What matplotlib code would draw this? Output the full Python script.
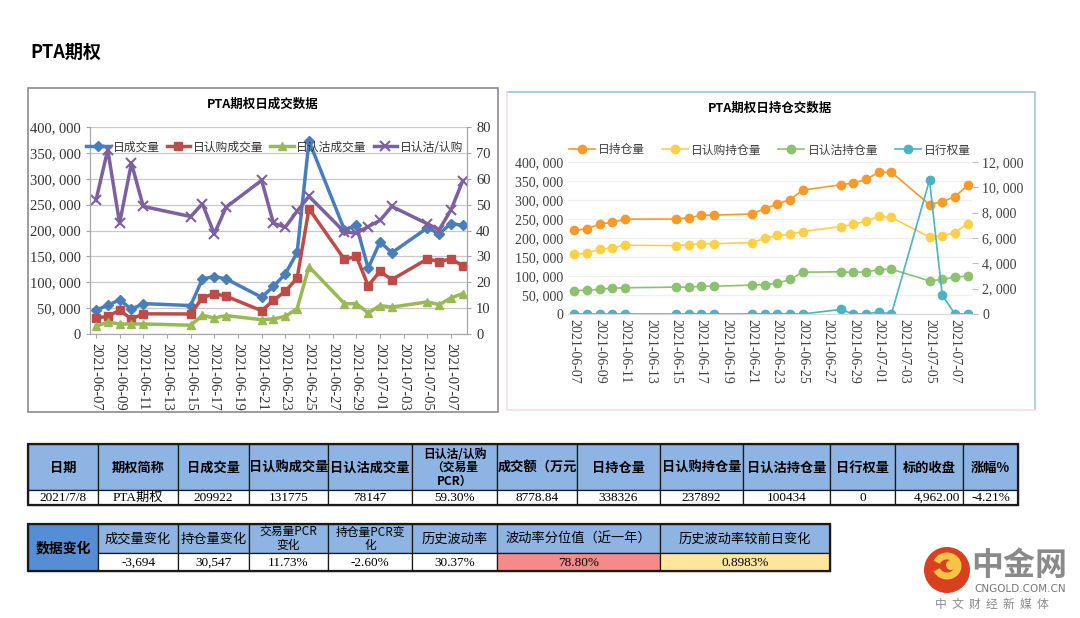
import numpy as np
import pandas as pd
import matplotlib
matplotlib.use('Agg')
import matplotlib.pyplot as plt
import matplotlib.dates as mdates
from matplotlib.ticker import FuncFormatter, FixedLocator
from matplotlib.patches import Rectangle, Circle, Arc

plt.rcParams['font.family'] = ['Noto Sans CJK SC', 'DejaVu Sans']
SERIF = ['Liberation Serif', 'Noto Sans CJK SC']

# trading days
dates = ['2021-06-07', '2021-06-08', '2021-06-09', '2021-06-10', '2021-06-11',
         '2021-06-15', '2021-06-16', '2021-06-17', '2021-06-18', '2021-06-21',
         '2021-06-22', '2021-06-23', '2021-06-24', '2021-06-25', '2021-06-28',
         '2021-06-29', '2021-06-30', '2021-07-01', '2021-07-02', '2021-07-05',
         '2021-07-06', '2021-07-07', '2021-07-08']

# daily volume
vol_total = [46000, 55500, 66000, 48000, 58700, 55000, 106500, 111000, 106500, 71000,
             92000, 116000, 157500, 373000, 201000, 210000, 127000, 178000, 157000,
             205000, 194000, 213500, 209922]
vol_call = [31000, 34000, 46000, 29000, 39000, 38700, 70000, 78000, 73000, 45000,
            65000, 82600, 108000, 242000, 144000, 150000, 93500, 121000, 105000,
            145000, 140000, 145000, 131775]
vol_put = [15000, 23000, 19400, 19400, 19400, 17000, 36000, 31000, 35500, 27700,
           29000, 34000, 49000, 130000, 58700, 58700, 40600, 55000, 52000,
           62000, 56800, 69700, 78147]
pcr = [51.6, 71.2, 42.8, 66.0, 49.3, 45.4, 50.3, 38.7, 49.0, 59.4, 42.8, 41.3,
       47.5, 53.2, 39.4, 39.0, 41.5, 43.9, 49.3, 42.6, 40.3, 48.0, 59.3]

# daily open interest
oi_total = [220000, 224000, 237000, 241000, 249500, 250000, 253000, 260000, 260000,
            263400, 277000, 289500, 301000, 326000, 340000, 345000, 354000, 373000,
            373000, 288000, 296000, 308600, 338326]
oi_call = [157000, 160000, 170000, 174000, 181000, 180000, 182000, 185000, 185000,
           188000, 199000, 207000, 209500, 217000, 230000, 236000, 244000, 257000,
           254000, 202500, 206000, 214000, 237892]
oi_put = [61000, 63000, 65000, 68000, 69000, 70700, 70700, 73000, 73000, 76000,
          77600, 81000, 91000, 110000, 111000, 109600, 111000, 116500, 118000,
          87000, 91000, 96500, 100434]
exercise = [0, 0, 0, 0, 0, 0, 0, 0, 0, 0, 0, 0, 0, 0, 360, 0, 0, 160, 0, 10570, 1500, 0, 0]

# tables
t1_headers = ['日期', '期权简称', '日成交量', '日认购成交量', '日认沽成交量',
              '日认沽/认购\n（交易量\nPCR）', '成交额（万元', '日持仓量', '日认购持仓量',
              '日认沽持仓量', '日行权量', '标的收盘', '涨幅%']
t1_values = ['2021/7/8', 'PTA期权', '209922', '131775', '78147', '59.30%', '8778.84',
             '338326', '237892', '100434', '0', '4,962.00', '-4.21%']
t2_label = '数据变化'
t2_headers = ['成交量变化', '持仓量变化', '交易量PCR\n变化', '持仓量PCR变\n化', '历史波动率',
              '波动率分位值（近一年）', '历史波动率较前日变化']
t2_values = ['-3,694', '30,547', '11.73%', '-2.60%', '30.37%', '78.80%', '0.8983%']

W, H = 1080, 618
fig = plt.figure(figsize=(W / 100, H / 100), dpi=100)
fig.patch.set_facecolor('white')


def box(x0, y0, x1, y1):
    return [x0 / W, 1 - y1 / H, (x1 - x0) / W, (y1 - y0) / H]


# overlay for frames, titles, tables
ov = fig.add_axes([0, 0, 1, 1], zorder=0)
ov.set_xlim(0, W)
ov.set_ylim(H, 0)
ov.axis('off')

ov.text(30, 52, 'PTA期权', fontsize=13, fontweight='bold', va='center', ha='left')

# chart frames
ov.add_patch(Rectangle((28, 88), 470, 324, fill=False, ec='#8c8c8c', lw=1.2))
ov.plot([507, 1035, 1035], [92, 92, 410], color='#9dc3e6', lw=1.2)
ov.plot([507, 507, 1035], [92, 410, 410], color='#f2dcf0', lw=1.2)

ov.text(263, 104, 'PTA期权日成交数据', fontsize=9, fontweight='bold', ha='center', va='center')
ov.text(770, 108, 'PTA期权日持仓交数据', fontsize=9, fontweight='bold', ha='center', va='center')

x = pd.to_datetime(dates)
xn = mdates.date2num(x)
ticks = mdates.date2num(pd.date_range('2021-06-07', '2021-07-07', freq='2D'))
xlim = (xn[0] - 0.5, xn[-1] + 0.35)
thousands = FuncFormatter(lambda v, p: f'{v:,.0f}'.replace(',', ', '))

# ---------- left chart: daily volume ----------
ax = fig.add_axes(box(90, 127, 467, 334), zorder=1)
ax.patch.set_alpha(0)
ax2 = ax.twinx()
l1, = ax.plot(xn, vol_total, color='#4a7ebb', lw=2.5, marker='D', ms=5, label='日成交量')
l2, = ax.plot(xn, vol_call, color='#be4b48', lw=2.5, marker='s', ms=6, label='日认购成交量')
l3, = ax.plot(xn, vol_put, color='#98b954', lw=2.5, marker='^', ms=6, label='日认沽成交量')
l4, = ax2.plot(xn, pcr, color='#7d60a0', lw=2.5, marker='x', ms=7, mew=1.5, label='日认沽/认购')
ax.set_ylim(0, 400000)
ax.set_yticks(np.arange(0, 400001, 50000))
ax.yaxis.set_major_formatter(thousands)
ax2.set_ylim(0, 80)
ax2.set_yticks(np.arange(0, 81, 10))
ax.set_xlim(*xlim)
ax.xaxis.set_major_locator(FixedLocator(ticks))
ax.xaxis.set_major_formatter(mdates.DateFormatter('%Y-%m-%d'))
ax.grid(axis='y', color='#c8c8c8', lw=0.9)
ax.set_axisbelow(True)
for a in (ax, ax2):
    a.spines['top'].set_visible(False)
    for s in ('left', 'right', 'bottom'):
        a.spines[s].set_color('#a6a6a6')
    a.tick_params(colors='#a6a6a6', length=3, labelcolor='#333333')
for lab in ax.get_yticklabels() + ax2.get_yticklabels():
    lab.set_family(SERIF)
    lab.set_fontsize(10.5)
for lab in ax.get_xticklabels():
    lab.set_family(SERIF)
    lab.set_fontsize(10.5)
    lab.set_rotation(270)
ax2.legend([l1, l2, l3, l4], [h.get_label() for h in (l1, l2, l3, l4)],
           loc='center', bbox_to_anchor=(0.49, 0.903), ncol=4, frameon=False,
           fontsize=8.5, handlelength=2.0, columnspacing=0.6, handletextpad=0.2,
           borderaxespad=0, borderpad=0, labelcolor='#333333')

# ---------- right chart: open interest ----------
bx = fig.add_axes(box(568, 162, 972, 314), zorder=1)
bx.patch.set_alpha(0)
bx2 = bx.twinx()
r1, = bx.plot(xn, oi_total, color='#f79a2a', lw=1.2, marker='o', ms=6, label='日持仓量')
r2, = bx.plot(xn, oi_call, color='#ffcf48', lw=1.2, marker='o', ms=6, label='日认购持仓量')
r3, = bx.plot(xn, oi_put, color='#8cc26f', lw=1.2, marker='o', ms=6, label='日认沽持仓量')
r4, = bx2.plot(xn, exercise, color='#4bb3c3', lw=1.2, marker='o', ms=6, label='日行权量')
bx.set_ylim(0, 400000)
bx.set_yticks(np.arange(0, 400001, 50000))
bx.yaxis.set_major_formatter(thousands)
bx2.set_ylim(0, 12000)
bx2.set_yticks(np.arange(0, 12001, 2000))
bx2.yaxis.set_major_formatter(thousands)
bx.set_xlim(*xlim)
bx.xaxis.set_major_locator(FixedLocator(ticks))
bx.xaxis.set_major_formatter(mdates.DateFormatter('%Y-%m-%d'))
bx.grid(axis='y', color='#efefef', lw=0.9)
bx.set_axisbelow(True)
for a in (bx, bx2):
    for s in ('top', 'left', 'right'):
        a.spines[s].set_visible(False)
    a.spines['bottom'].set_color('#d9d9d9')
    a.tick_params(colors='#bfbfbf', labelcolor='#404040')
bx.tick_params(axis='y', length=0)
bx.tick_params(axis='x', length=0)
bx2.tick_params(axis='y', length=4)
for lab in bx.get_yticklabels() + bx2.get_yticklabels():
    lab.set_family(SERIF)
    lab.set_fontsize(10)
for lab in bx.get_xticklabels():
    lab.set_family(SERIF)
    lab.set_fontsize(10)
    lab.set_rotation(270)
bx2.legend([r1, r2, r3, r4], [h.get_label() for h in (r1, r2, r3, r4)],
           loc='center', bbox_to_anchor=(0.5, 1.079), ncol=4, frameon=False,
           fontsize=8.5, handlelength=2.2, columnspacing=1.4, handletextpad=0.3,
           borderaxespad=0, labelcolor='#404040')


# ---------- tables ----------
def cell(x0, x1, y0, y1, text, fc, size=9, family=None, bold=False, ha='center'):
    ov.add_patch(Rectangle((x0, y0), x1 - x0, y1 - y0, fc=fc, ec='#1a1a1a', lw=0.9))
    tx = (x0 + x1) / 2 if ha == 'center' else x1 - 3
    ov.text(tx, (y0 + y1) / 2 + 0.5, text, ha=ha, va='center', fontsize=size,
            family=family if family else plt.rcParams['font.family'],
            fontweight='bold' if bold else 'normal', linespacing=1.05)


cols1 = [28, 98, 178, 249, 328, 412, 497, 577, 660, 743, 830, 895, 963, 1018]
for i, (hd, val) in enumerate(zip(t1_headers, t1_values)):
    cell(cols1[i], cols1[i + 1], 444, 490, hd, '#8db4e2', size=9.5 if '\n' not in hd else 8.5,
         bold=True)
    cell(cols1[i], cols1[i + 1], 490, 505, val, 'white', size=9.5, family=SERIF,
         ha='right' if val == '4,962.00' else 'center')
ov.add_patch(Rectangle((28, 444), 990, 61, fill=False, ec='#1a1a1a', lw=1.6))

cols2 = cols1[:7] + [660, 830]
fills2 = ['white'] * 5 + ['#f8898b', '#fee79c']
cell(28, 98, 524, 571, t2_label, '#558ed5', size=10, bold=True)
for i, (hd, val) in enumerate(zip(t2_headers, t2_values)):
    cell(cols2[i + 1], cols2[i + 2], 524, 553, hd, '#8db4e2', size=9.5 if '\n' not in hd else 8.5)
    cell(cols2[i + 1], cols2[i + 2], 553, 571, val, fills2[i], size=9.5, family=SERIF)
ov.add_patch(Rectangle((28, 524), 802, 47, fill=False, ec='#1a1a1a', lw=1.6))

# ---------- watermark logo ----------
ov.add_patch(Circle((947, 570), 23, fc='#d8401f', ec='none'))
ov.add_patch(Arc((947, 566), 22, 20, theta1=200, theta2=520, color='#f7c546', lw=5))
ov.add_patch(Circle((951, 565), 5, fc='#f7c546', ec='none'))
ov.text(1019, 566, '中金网', fontsize=23, fontweight='bold', color='#8a8a8a',
        ha='center', va='center')
ov.text(1020, 589, 'CNGOLD.COM.CN', fontsize=7.5, color='#777777', ha='center', va='center',
        family=['DejaVu Sans'])
ov.text(992, 604, '中  文  财  经  新  媒  体', fontsize=8.5, color='#8a8a8a',
        ha='center', va='center')

fig.savefig('out.png', dpi=100, facecolor='white')
